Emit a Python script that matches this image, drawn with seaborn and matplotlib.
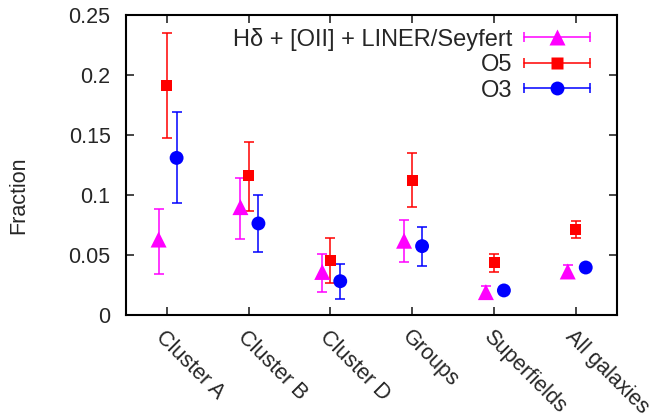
import numpy as np
import pandas as pd
import matplotlib
matplotlib.use("Agg")
import matplotlib.pyplot as plt
import matplotlib.transforms as mtransforms
import seaborn as sns
from matplotlib.lines import Line2D
from matplotlib.legend_handler import HandlerBase

groups = ['Cluster A', 'Cluster B', 'Cluster D', 'Groups', 'Superfields', 'All galaxies']

# H-delta + [OII] + LINER/Seyfert
hd_val = [0.063, 0.090, 0.036, 0.062, 0.0192, 0.0364]
hd_lo = [0.034, 0.0636, 0.0189, 0.0444, 0.0139, 0.031]
hd_hi = [0.0886, 0.114, 0.0508, 0.079, 0.0244, 0.0422]

# O5
o5_val = [0.191, 0.116, 0.0458, 0.1125, 0.0436, 0.0711]
o5_lo = [0.1475, 0.087, 0.0272, 0.090, 0.0361, 0.0639]
o5_hi = [0.235, 0.144, 0.0639, 0.1347, 0.0508, 0.0783]

# O3
o3_val = [0.131, 0.0764, 0.0283, 0.0575, 0.0206, 0.0397]
o3_lo = [0.0936, 0.0528, 0.0136, 0.0408, 0.0180, 0.0370]
o3_hi = [0.169, 0.100, 0.0425, 0.0736, 0.0232, 0.0425]

series = [
    ('H\u03b4 + [OII] + LINER/Seyfert', hd_val, hd_lo, hd_hi, '#ff00ff', '^', 11.5, -0.1),
    ('O5', o5_val, o5_lo, o5_hi, '#ff0000', 's', 8, 0.0),
    ('O3', o3_val, o3_lo, o3_hi, '#0000ff', 'o', 10, 0.12),
]


class HandlerCapLine(HandlerBase):
    # gnuplot-like key sample: horizontal bar with end caps and marker in middle
    def create_artists(self, legend, orig_handle, xdescent, ydescent,
                       width, height, fontsize, trans):
        c = orig_handle.get_color()
        y = height / 2 - ydescent
        x0, x1 = -xdescent, width - xdescent
        line = Line2D([x0, x1], [y, y], color=c, lw=1.1)
        caps = Line2D([x0, x1], [y, y], ls='none', marker='|', ms=7, mew=1.1, color=c)
        mk = Line2D([(x0 + x1) / 2], [y], ls='none', marker=orig_handle.get_marker(),
                    ms=orig_handle.get_markersize(), color=c, mec='none')
        for a in (line, caps, mk):
            a.set_transform(trans)
        return [line, caps, mk]


sns.set_style('ticks')
plt.rcParams['font.family'] = ['Liberation Sans', 'DejaVu Sans']

fig = plt.figure(figsize=(6.59, 4.18), dpi=100)
ax = fig.add_axes([0.191, 0.246, 0.745, 0.718])

x = np.arange(1, len(groups) + 1)
handles = []
for label, val, lo, hi, color, marker, ms, off in series:
    val = np.array(val)
    err = [val - np.array(lo), np.array(hi) - val]
    df = pd.DataFrame({'x': x + off, 'y': val})
    ax.errorbar(df['x'], df['y'], yerr=err, fmt='none', ecolor=color,
                elinewidth=1.1, capsize=3.6, capthick=1.1, zorder=2)
    sns.scatterplot(data=df, x='x', y='y', ax=ax, color=color, marker=marker,
                    s=ms ** 2, edgecolor='none', zorder=3, legend=False)
    handles.append(Line2D([], [], color=color, marker=marker, markersize=ms, label=label))

ax.set_xlim(0.5, 6.5)
ax.set_ylim(0, 0.25)
ax.set_xticks(x)
ax.set_xticklabels(groups, rotation=-45, ha='left', va='top', rotation_mode='anchor',
                   fontsize=15.5)
# nudge rotated labels a little to the right, as in the reference
shift = mtransforms.ScaledTranslation(5 / 100, 1 / 100, fig.dpi_scale_trans)
for lbl in ax.get_xticklabels():
    lbl.set_transform(lbl.get_transform() + shift)
ax.set_yticks([0, 0.05, 0.1, 0.15, 0.2, 0.25])
ax.set_yticklabels(['0', '0.05', '0.1', '0.15', '0.2', '0.25'], fontsize=15.5)
ax.tick_params(direction='in', length=6, width=1.2, top=True, right=True)
ax.tick_params(axis='y', pad=11)
ax.tick_params(axis='x', pad=8)
ax.set_xlabel('')
ax.set_ylabel('Fraction', fontsize=15.5)
ax.yaxis.set_label_coords(-0.196, 0.4)
for s in ax.spines.values():
    s.set_linewidth(1.5)
    s.set_color('black')

ax.legend(handles=handles, handler_map={Line2D: HandlerCapLine()}, loc='upper right',
          bbox_to_anchor=(0.979, 1.013), frameon=False, markerfirst=False, fontsize=17,
          handlelength=2.8, handletextpad=0.5, labelspacing=0.15, borderaxespad=0.3)

fig.savefig('out.png', dpi=100)
